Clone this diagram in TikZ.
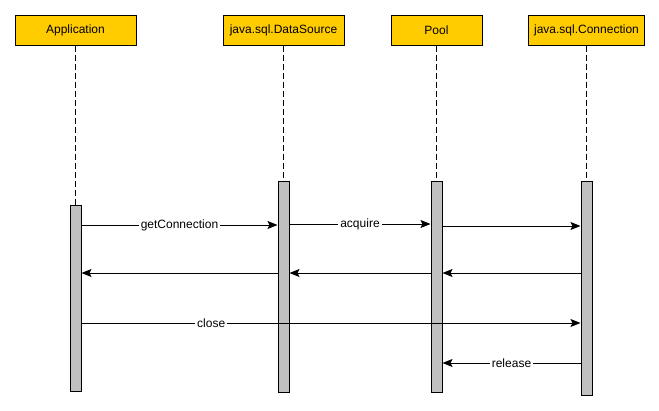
\documentclass[tikz,border=0pt]{standalone}
\usepackage{fontspec}
\setmainfont{Liberation Sans}
\usetikzlibrary{arrows.meta}
\begin{document}
\begin{tikzpicture}[x=1pt,y=-1pt,
  every node/.style={font=\fontsize{12}{14}\selectfont},
  header/.style={draw=black,line width=1pt,fill={rgb,255:red,255;green,204;blue,0},minimum height=30pt,inner sep=0pt},
  actbar/.style={draw=black,line width=1pt,fill={rgb,255:red,192;green,192;blue,192},minimum width=11pt,inner sep=0pt},
  lifeline/.style={line width=1pt,dash pattern=on 6pt off 3pt},
  msg/.style={line width=1pt,-{Stealth[length=10pt,width=8pt,inset=2pt]}},
  msglabel/.style={fill=white,inner sep=2pt}
]
\useasboundingbox (0,0) rectangle (659,410);
% headers
\node[header,minimum width=121pt] (app) at (75.5,30) {Application};
\node[header,minimum width=121pt] (ds) at (283.5,30) {java.sql.DataSource};
\node[header,minimum width=91pt] (pool) at (436.5,30) {Pool};
\node[header,minimum width=116pt] (conn) at (586.5,30) {java.sql.Connection};
% activation bars
\node[actbar,minimum height=186pt] (appbar) at (75.5,298) {};
\node[actbar,minimum height=211pt] (dsbar) at (283.5,286.5) {};
\node[actbar,minimum height=211pt] (poolbar) at (436.5,286.5) {};
\node[actbar,minimum height=214pt] (connbar) at (586.5,288) {};
% lifelines
\draw[lifeline] (app.south) -- (appbar.north);
\draw[lifeline] (ds.south) -- (dsbar.north);
\draw[lifeline] (pool.south) -- (poolbar.north);
\draw[lifeline] (conn.south) -- (connbar.north);
% messages
\draw[msg] (appbar.east |- 0,225) -- node[msglabel] (l1) {getConnection} (dsbar.west |- 0,225);
\draw[msg] (dsbar.east |- 0,224) -- node[msglabel] (l2) {acquire} (poolbar.west |- 0,224);
\draw[msg] (poolbar.east |- 0,226) -- (connbar.west |- 0,226);
\draw[msg] (connbar.west |- 0,273) -- (poolbar.east |- 0,273);
\draw[msg] (poolbar.west |- 0,273) -- (dsbar.east |- 0,273);
\draw[msg] (dsbar.west |- 0,273) -- (appbar.east |- 0,273);
\draw[msg] (appbar.east |- 0,323) -- node[msglabel,pos=0.26] (l3) {close} (connbar.west |- 0,323);
\draw[msg] (connbar.west |- 0,363) -- node[msglabel] (l4) {release} (poolbar.east |- 0,363);
\end{tikzpicture}
\end{document}
